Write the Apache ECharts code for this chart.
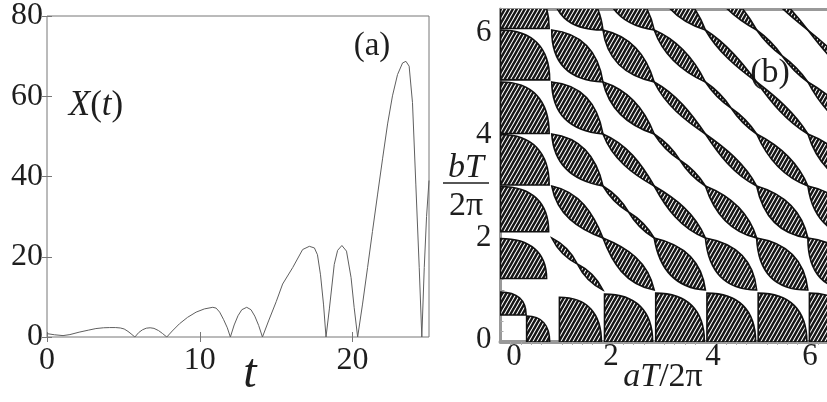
<!DOCTYPE html>
<html><head><meta charset="utf-8">
<script src="https://cdn.jsdelivr.net/npm/echarts@6/dist/echarts.min.js"></script>
<style>html,body{margin:0;padding:0;background:#fff}#c{width:827px;height:402px}</style>
</head><body><div id="c"></div>
<script>
// ---------- Panel (a): X(t) ----------
const tVals = [0, 0.5, 1.05, 1.5, 2.1, 2.7, 3.2, 3.7, 4.1, 4.5, 4.8, 5.05, 5.3, 5.5, 5.75,
  6.0, 6.25, 6.5, 6.75, 7.0, 7.3, 7.55, 7.84,
  8.2, 8.67, 9.2, 9.76, 10.3, 10.85, 11.07, 11.3, 11.55, 11.8, 12.0,
  12.25, 12.5, 12.75, 13.07, 13.35, 13.6, 13.85, 14.1,
  14.5, 15.0, 15.42, 16.08, 16.73, 17.17, 17.5, 17.7, 17.9, 18.1, 18.26,
  18.48, 18.8, 19.02, 19.3, 19.6, 19.9, 20.1, 20.33,
  20.65, 20.98, 21.3, 21.63, 21.96, 22.29, 22.61, 22.94, 23.27, 23.49, 23.7, 23.92, 24.14, 24.36, 24.53,
  24.69, 24.84, 25.0];
const xVals = [0.84, 0.55, 0.35, 0.6, 1.2, 1.7, 2.1, 2.3, 2.35, 2.35, 2.25, 2.0, 1.4, 0.8, 0,
  1.1, 1.8, 2.2, 2.3, 2.15, 1.6, 0.9, 0,
  1.5, 3.3, 4.9, 6.2, 7.0, 7.4, 7.2, 6.2, 4.4, 2.3, 0,
  3.0, 5.3, 6.8, 7.4, 6.8, 5.2, 2.9, 0,
  4.0, 8.8, 13.2, 17.3, 21.8, 22.6, 22.2, 20.5, 15.5, 8.0, 0,
  7.0, 18.1, 21.6, 22.8, 21.4, 14.8, 7.4, 0,
  8.2, 17.3, 26.3, 35.4, 44.4, 53.1, 60.1, 65.4, 68.3, 68.7, 67.5, 58.4, 37.9, 17.3, 0,
  17.3, 30, 39];
const aTicksX = [0, 10, 20];

// ---------- Panel (b): instability lobes ----------
// edge lobes (bottom row / left column): [x0, x1, y0, y1], rounded toward upper-right
const edgeLobes = [
  [0.51, 0.96, 0, 0.5], [0, 0.5, 0.52, 0.96],
  [1.15, 1.97, 0, 0.86], [2.03, 2.97, 0, 0.92], [3.03, 3.98, 0, 0.94],
  [4.03, 4.98, 0, 0.94], [5.03, 5.98, 0, 0.94], [6.03, 6.98, 0, 0.94],
  [0, 0.9, 1.22, 1.99], [0, 0.94, 2.12, 2.99], [0, 0.95, 3.02, 3.99],
  [0, 0.95, 4.01, 5.0], [0, 0.96, 5.04, 6.0], [0, 0.95, 6.03, 7.0]
];
// interior lens lobes in unit cell (k, m): [k, m, upperHalfWidth, lowerHalfWidth, skew]
const lensLobes = [
  [1, 2, 0.19, 0.20, -0.2], [2, 1, 0.19, 0.20, 0.2],
  [1, 3, 0.25, 0.28, -0.1], [3, 1, 0.25, 0.28, 0.1],
  [1, 4, 0.27, 0.32, -0.08], [4, 1, 0.27, 0.32, 0.08],
  [1, 5, 0.27, 0.34, -0.05], [5, 1, 0.27, 0.34, 0.05],
  [1, 6, 0.29, 0.37, -0.05], [6, 1, 0.29, 0.37, 0.05],
  [2, 3, 0.12, 0.13, -0.2], [3, 2, 0.12, 0.13, 0.2],
  [2, 4, 0.17, 0.20, -0.1], [4, 2, 0.17, 0.20, 0.1],
  [2, 5, 0.21, 0.25, -0.08], [5, 2, 0.21, 0.25, 0.08],
  [2, 6, 0.24, 0.28, -0.05], [6, 2, 0.24, 0.28, 0.05],
  [3, 4, 0.085, 0.095, -0.25], [4, 3, 0.085, 0.095, 0.25],
  [3, 5, 0.13, 0.15, -0.1], [5, 3, 0.13, 0.15, 0.1],
  [3, 6, 0.17, 0.20, -0.08], [6, 3, 0.17, 0.20, 0.08],
  [4, 5, 0.065, 0.075, -0.25], [5, 4, 0.065, 0.075, 0.25],
  [4, 6, 0.11, 0.12, -0.1], [6, 4, 0.11, 0.12, 0.1],
  [5, 6, 0.055, 0.06, -0.25], [6, 5, 0.055, 0.06, 0.25]
];
// diagonal cells (k, k): [k, halfWidth] -> two small lenses pinched at the cell centre
const diagLobes = [[1, 0.06], [2, 0.045], [3, 0.04], [4, 0.035], [5, 0.03], [6, 0.03]];
const bTicks = [0, 2, 4, 6];
const bTickLabelX = [514, 611, 713, 810];   // where the reference prints the aT/2π tick labels

const FONT = 'Liberation Serif';
const TXT = '#1e1e1e';

// hatch pattern: dark fill with white "/" strokes
const pc = document.createElement('canvas');
pc.width = 4; pc.height = 7;
const g = pc.getContext('2d');
g.fillStyle = '#161616'; g.fillRect(0, 0, 4, 7);
g.strokeStyle = '#ffffff'; g.lineWidth = 1.1;
g.beginPath();
[-4, 0, 4].forEach(dx => { g.moveTo(dx, 7); g.lineTo(dx + 4, 0); });
g.stroke();
const hatch = { image: pc, repeat: 'repeat' };
const lobeStyle = { fill: hatch, stroke: '#111', lineWidth: 1.6 };

function P(a) { return a[0].toFixed(2) + ' ' + a[1].toFixed(2); }

function lensPath(api, p1, p2, wu, wl, s) {
  const L = [p2[0] - p1[0], p2[1] - p1[1]];
  const r = Math.SQRT1_2;
  const pt = (f, o) => api.coord([p1[0] + L[0] * f + r * o, p1[1] + L[1] * f + r * o]);
  const cu1 = wu / 0.75 * (1 - s), cu2 = wu / 0.75 * (1 + s);
  const cl1 = wl / 0.75 * (1 - s), cl2 = wl / 0.75 * (1 + s);
  const A = api.coord(p1), B = api.coord(p2);
  return 'M' + P(A) + ' C' + P(pt(1 / 3, cu1)) + ' ' + P(pt(2 / 3, cu2)) + ' ' + P(B) +
    ' C' + P(pt(2 / 3, -cl2)) + ' ' + P(pt(1 / 3, -cl1)) + ' ' + P(A) + ' Z';
}

const tSeries = tVals.map((t, i) => [t, xVals[i]]);

const chart = echarts.init(document.getElementById('c'), null, { renderer: 'canvas' });

const labelA = { fontFamily: FONT, fontSize: 32, color: TXT };
const labelB = { fontFamily: FONT, fontSize: 31, color: TXT };
const BX = { left: 500.5, top: 9, width: 329.5, height: 333 };

const bxLabels = bTicks.map((v, i) => ({
  type: 'text', x: bTickLabelX[i], y: 357,
  style: { text: String(v), fontFamily: FONT, fontSize: 31, fill: TXT, align: 'center', verticalAlign: 'middle' }
}));

chart.setOption({
  animation: false,
  backgroundColor: '#fff',
  grid: [
    { left: 47, top: 13, width: 382, height: 324, show: true, borderColor: '#777', borderWidth: 1, backgroundColor: 'transparent' },
    Object.assign({ show: false }, BX),
    Object.assign({ show: false }, BX)
  ],
  xAxis: [
    { gridIndex: 0, type: 'value', min: 0, max: 25, position: 'bottom',
      axisLine: { show: false }, splitLine: { show: false },
      axisTick: { inside: true, length: 5, lineStyle: { color: '#777' }, customValues: aTicksX },
      axisLabel: Object.assign({ margin: 8, customValues: aTicksX }, labelA) },
    { gridIndex: 0, type: 'value', min: 0, max: 25, position: 'top',
      axisLine: { show: false }, splitLine: { show: false }, axisLabel: { show: false },
      axisTick: { inside: true, length: 5, lineStyle: { color: '#777' }, customValues: aTicksX } },
    // (b) data axis
    { gridIndex: 1, type: 'value', min: 0, max: 329.5 / 51.7, interval: 1, position: 'bottom',
      axisLine: { show: true, lineStyle: { color: '#999', width: 4 } }, splitLine: { show: false },
      axisTick: { show: false }, axisLabel: { show: false },
      minorTick: { show: true, splitNumber: 5, length: 3, lineStyle: { color: '#aaa' } } },
    { gridIndex: 1, type: 'value', min: 0, max: 329.5 / 51.7, position: 'top',
      axisLine: { show: true, lineStyle: { color: '#999', width: 3 } }, splitLine: { show: false },
      axisTick: { show: false }, axisLabel: { show: false } },
    { gridIndex: 2, type: 'value', min: 0, max: 1, show: false }
  ],
  yAxis: [
    { gridIndex: 0, type: 'value', min: 0, max: 80, interval: 20, position: 'left',
      axisLine: { show: false }, splitLine: { show: false },
      axisTick: { inside: true, length: 5, lineStyle: { color: '#777' } },
      axisLabel: Object.assign({ margin: 4 }, labelA) },
    { gridIndex: 0, type: 'value', min: 0, max: 80, interval: 20, position: 'right',
      axisLine: { show: false }, splitLine: { show: false }, axisLabel: { show: false },
      axisTick: { inside: true, length: 5, lineStyle: { color: '#777' } } },
    { gridIndex: 1, type: 'value', min: 0, max: 333 / 52, interval: 1, position: 'left',
      axisLine: { show: true, lineStyle: { color: '#999', width: 3 } }, splitLine: { show: false },
      axisTick: { inside: true, length: 4, lineStyle: { color: '#999' } }, axisLabel: { show: false },
      minorTick: { show: true, splitNumber: 5, length: 3, lineStyle: { color: '#aaa' } } },
    // (b) y tick-label axis
    { gridIndex: 2, type: 'value', min: -0.039, max: -0.039 + 333 / 51.17, position: 'left',
      axisLine: { show: false }, splitLine: { show: false }, axisTick: { show: false },
      axisLabel: Object.assign({ margin: 9, customValues: bTicks }, labelB) }
  ],
  series: [
    { type: 'line', xAxisIndex: 0, yAxisIndex: 0, data: tSeries, showSymbol: false,
      lineStyle: { color: '#5f5f5f', width: 1 }, silent: true, clip: true },
    { type: 'custom', xAxisIndex: 2, yAxisIndex: 2, clip: true, data: edgeLobes,
      renderItem: (params, api) => {
        const x0 = api.value(0), x1 = api.value(1), y0 = api.value(2), y1 = api.value(3);
        const f = 0.65;
        const a = api.coord([x0, y0]), b = api.coord([x0, y1]);
        const c1 = api.coord([x0 + f * (x1 - x0), y1]), c2 = api.coord([x1, y0 + f * (y1 - y0)]);
        const d = api.coord([x1, y0]);
        return { type: 'path', shape: { pathData: 'M' + P(a) + ' L' + P(b) + ' C' + P(c1) + ' ' + P(c2) + ' ' + P(d) + ' Z' }, style: lobeStyle };
      } },
    { type: 'custom', xAxisIndex: 2, yAxisIndex: 2, clip: true, data: lensLobes,
      renderItem: (params, api) => {
        const k = api.value(0), m = api.value(1);
        const d = lensPath(api, [k, m + 1], [k + 1, m], api.value(2), api.value(3), api.value(4));
        return { type: 'path', shape: { pathData: d }, style: lobeStyle };
      } },
    { type: 'custom', xAxisIndex: 2, yAxisIndex: 2, clip: true, data: diagLobes,
      renderItem: (params, api) => {
        const k = api.value(0), w = api.value(1);
        const d = lensPath(api, [k, k + 1], [k + 0.5, k + 0.5], w, w, 0) + ' ' +
          lensPath(api, [k + 0.5, k + 0.5], [k + 1, k], w, w, 0);
        return { type: 'path', shape: { pathData: d }, style: lobeStyle };
      } }
  ],
  graphic: bxLabels.concat([
    { type: 'text', x: 96, y: 106, style: { text: '{i|X}({i|t})', fontFamily: FONT, fontSize: 35, fill: TXT, align: 'center', verticalAlign: 'middle',
      rich: { i: { fontFamily: FONT, fontStyle: 'italic', fontSize: 35, fill: TXT } } } },
    { type: 'text', x: 372, y: 46, style: { text: '(a)', fontFamily: FONT, fontSize: 33, fill: TXT, align: 'center', verticalAlign: 'middle' } },
    { type: 'text', x: 250, y: 374, style: { text: 't', fontFamily: FONT, fontStyle: 'italic', fontSize: 48, fill: TXT, align: 'center', verticalAlign: 'middle' } },
    { type: 'text', x: 770, y: 73, style: { text: '(b)', fontFamily: FONT, fontSize: 34, fill: TXT, align: 'center', verticalAlign: 'middle' } },
    { type: 'text', x: 663, y: 377, style: { text: '{i|aT}/2π', fontFamily: FONT, fontSize: 34, fill: TXT, align: 'center', verticalAlign: 'middle',
      rich: { i: { fontFamily: FONT, fontStyle: 'italic', fontSize: 34, fill: TXT } } } },
    { type: 'text', x: 466, y: 168, style: { text: 'bT', fontFamily: FONT, fontStyle: 'italic', fontSize: 34, fill: TXT, align: 'center', verticalAlign: 'middle' } },
    { type: 'line', shape: { x1: 443, y1: 183, x2: 489, y2: 183 }, style: { stroke: TXT, lineWidth: 1.5 } },
    { type: 'text', x: 466, y: 206, style: { text: '2π', fontFamily: FONT, fontSize: 34, fill: TXT, align: 'center', verticalAlign: 'middle' } }
  ])
});
</script>
</body></html>
